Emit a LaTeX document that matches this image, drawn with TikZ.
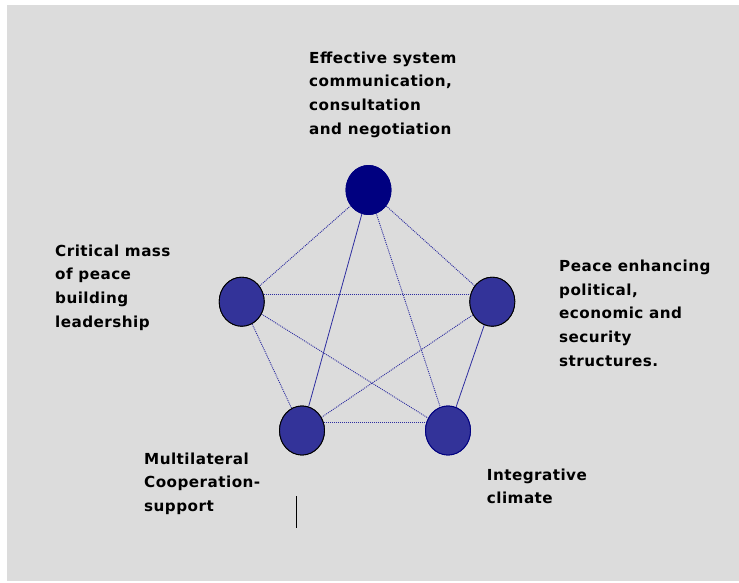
\documentclass[tikz,border=0pt]{standalone}
\usepackage{fontspec}
\setmainfont{Liberation Sans}
\newfontfamily\lblfont[LetterSpace=3]{DejaVu Sans}
\usetikzlibrary{shapes.geometric}
\definecolor{bg}{HTML}{DCDCDC}
\definecolor{navy}{HTML}{000080}
\definecolor{ball}{HTML}{333399}
\definecolor{link}{HTML}{2E2EA0}
\tikzset{
  ball/.style={ellipse, inner sep=0pt, minimum width=45pt, minimum height=49pt, fill=ball, draw=black, line width=0.9pt},
  topball/.style={ball, fill=navy, draw=navy},
  lbl/.style={anchor=base west, inner sep=0pt, align=left, font=\lblfont\fontsize{15.2}{23.7}\selectfont\bfseries},
  solidlink/.style={draw=link, line width=0.8pt},
  dotlink/.style={draw=link, line width=0.9pt, dash pattern=on 1pt off 1pt}
}
\begin{document}
\begin{tikzpicture}[x=1pt,y=-1pt]
\useasboundingbox (0,0) rectangle (739,582);
\fill[white] (0,0) rectangle (739,582);
\fill[bg] (7,5) rectangle (739,581);
% circles
\node[topball] (T) at (368.5,190) {};
\node[ball] (L) at (241.7,301.7) {};
\node[ball] (R) at (492.3,301.7) {};
\node[ball] (BL) at (302,430.5) {};
\node[ball, draw=navy] (BR) at (448,430.5) {};
% links
\draw[dotlink] (T) -- (L);
\draw[dotlink] (T) -- (R);
\draw[dotlink] (T) -- (BR);
\draw[solidlink] (T) -- (BL);
\draw[dotlink] (L.18) -- (R.162);
\draw[dotlink] (L) -- (BL);
\draw[dotlink] (L) -- (BR);
\draw[dotlink] (R) -- (BL);
\draw[solidlink] (R) -- (BR);
\draw[dotlink] (BL.20) -- (BR.160);
% redraw circles on top
\node[topball] at (T) {};
\node[ball] at (L) {};
\node[ball] at (R) {};
\node[ball] at (BL) {};
\node[ball, draw=navy] at (BR) {};
% labels (base anchor = baseline of last line)
\node[lbl] (tT) at (309,134.1) {Effective system\\communication,\\consultation\\and negotiation};
\node[lbl] (tL) at (55,327.1) {Critical mass\\of peace\\building\\leadership};
\node[lbl] (tR) at (559,366.1) {Peace enhancing\\political,\\economic and\\security\\structures.};
\node[lbl] (tBL) at (144,511.4) {Multilateral\\Cooperation-\\support};
\node[lbl] (tBR) at (486.7,503.7) {Integrative\\climate};
% stray mark
\coordinate (m1) at (296,496);
\coordinate (m2) at (296,528);
\draw[black, line width=0.9pt] (m1) -- (m2);
\end{tikzpicture}
\end{document}
